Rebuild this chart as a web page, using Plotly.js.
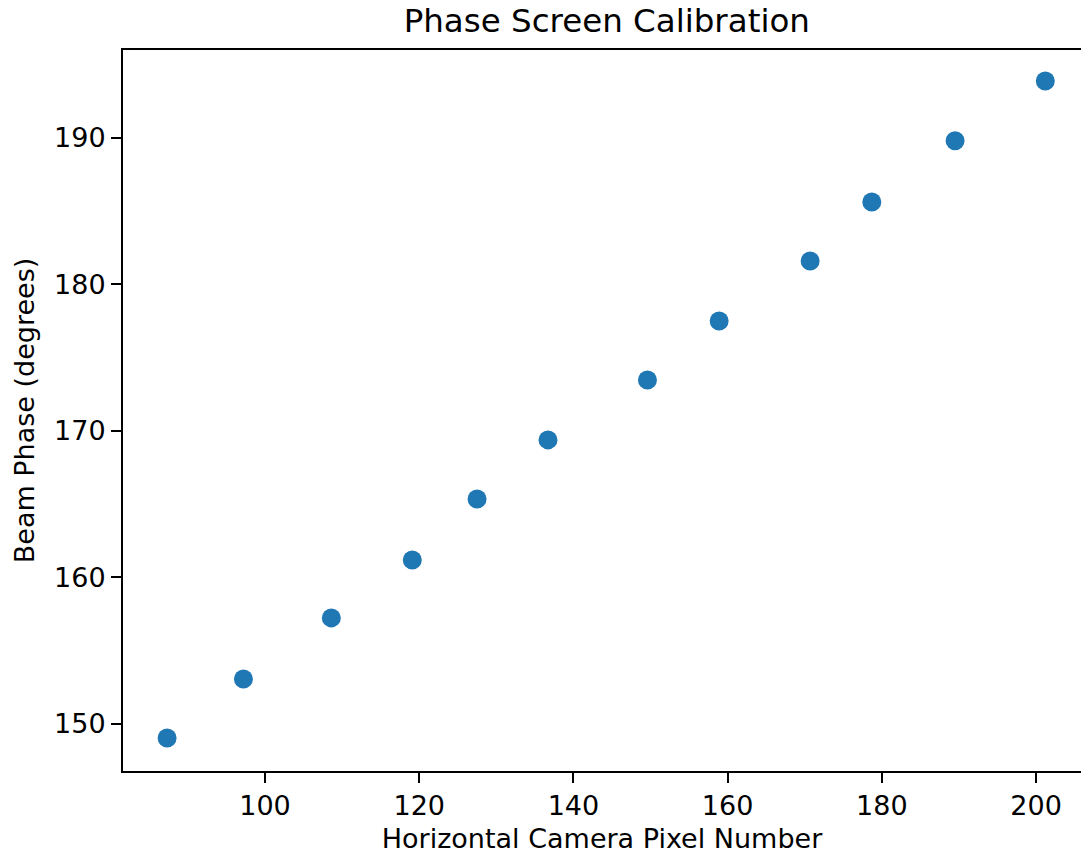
<!DOCTYPE html>
<html>
<head>
<meta charset="utf-8">
<script src="https://cdn.plot.ly/plotly-3.0.1.min.js"></script>
<style>html,body{margin:0;padding:0;background:#fff;}#chart{width:1081px;height:854px;}</style>
</head>
<body>
<div id="chart"></div>
<script>
const pixelNumber = [87.3, 97.2, 108.6, 119.1, 127.5, 136.7, 149.6, 158.9, 170.7, 178.7, 189.5, 201.2];
const beamPhase = [149.04, 153.07, 157.24, 161.19, 165.36, 169.39, 173.48, 177.51, 181.60, 185.63, 189.80, 193.89];
const xTicks = [100, 120, 140, 160, 180, 200];
const yTicks = [150, 160, 170, 180, 190];

const font = {family: 'DejaVu Sans, sans-serif', size: 27, color: '#000'};

const trace = {
  x: pixelNumber,
  y: beamPhase,
  mode: 'markers',
  type: 'scatter',
  marker: {color: '#1f77b4', size: 19, line: {width: 0}},
  hoverinfo: 'skip'
};

const layout = {
  width: 1081,
  height: 854,
  margin: {l: 123, r: 0, t: 50, b: 83, pad: 0},
  paper_bgcolor: '#fff',
  plot_bgcolor: '#fff',
  showlegend: false,
  font: font,
  title: {
    text: 'Phase Screen Calibration',
    font: {family: 'DejaVu Sans, sans-serif', size: 32.5, color: '#000'},
    x: 0.505, xref: 'paper', xanchor: 'center',
    y: 0.976, yref: 'container', yanchor: 'middle'
  },
  xaxis: {
    range: [81.58, 205.83],
    tickvals: xTicks,
    ticktext: xTicks.map(String),
    ticks: 'outside', ticklen: 10, tickwidth: 2, tickcolor: '#000',
    showline: true, linewidth: 2, linecolor: '#000', mirror: true,
    showgrid: false, zeroline: false,
    tickfont: font,
    title: {text: 'Horizontal Camera Pixel Number', font: font, standoff: 12}
  },
  yaxis: {
    range: [146.79, 196.0],
    tickvals: yTicks,
    ticktext: yTicks.map(String),
    ticks: 'outside', ticklen: 10, tickwidth: 2, tickcolor: '#000',
    showline: true, linewidth: 2, linecolor: '#000', mirror: false,
    showgrid: false, zeroline: false,
    tickfont: font,
    title: {text: 'Beam Phase (degrees)', font: font, standoff: 12}
  }
};

Plotly.newPlot('chart', [trace], layout, {displayModeBar: false, staticPlot: true});
</script>
</body>
</html>
